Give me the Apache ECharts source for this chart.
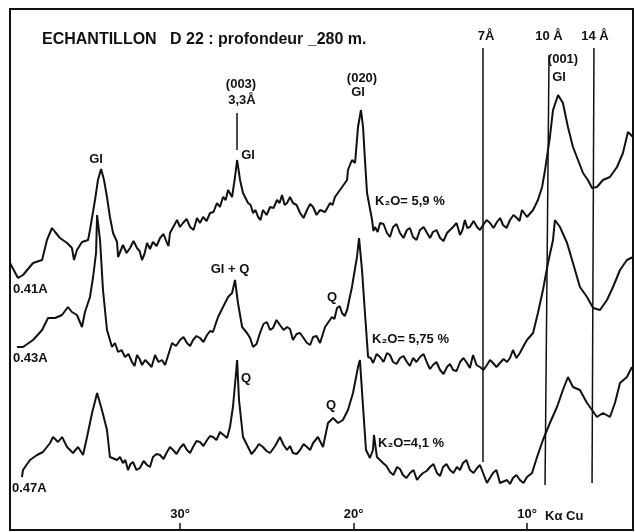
<!DOCTYPE html>
<html>
<head>
<meta charset="utf-8">
<title>Echantillon D22</title>
<script src="https://cdn.jsdelivr.net/npm/echarts@6/dist/echarts.min.js"></script>
<style>
  html, body { margin: 0; padding: 0; background: #fff; }
  #chart { width: 635px; height: 532px; }
</style>
</head>
<body>
<div id="chart"></div>
<script>
// 2θ en degrés (Cu Kα), intensité en unités arbitraires (décalées par courbe)
const trace041 = [
  [39.80,267],[39.34,252],[39.05,255],[38.47,267],[37.95,270],[37.67,290],[37.38,302],[37.20,298],
  [36.92,292],[36.51,287],[36.23,282],[36.11,270],[35.94,280],[35.65,288],[35.30,290],[35.19,300],
  [34.90,330],[34.73,350],[34.55,361],[34.38,350],[34.21,333],[34.04,313],[33.86,297],[33.63,288],
  [33.57,273],[33.29,285],[33.08,277],[32.88,282],[32.68,289],[32.48,282],[32.33,279],[32.19,270],
  [32.05,276],[31.90,287],[31.73,281],[31.56,288],[31.35,284],[31.15,292],[30.95,296],[30.75,287],
  [30.66,284],[30.58,297],[30.17,310],[30.00,303],[29.83,307],[29.62,311],[29.42,303],[29.22,300],
  [29.02,312],[28.85,307],[28.67,313],[28.47,309],[28.27,317],[28.07,318],[27.87,327],[27.70,323],
  [27.52,333],[27.37,330],[27.23,340],[27.00,333],[26.83,353],[26.71,370],[26.54,350],[26.37,337],
  [26.08,327],[25.93,325],[25.79,317],[25.65,320],[25.50,313],[25.36,310],[25.22,320],[25.01,315],
  [24.81,323],[24.61,322],[24.41,330],[24.26,327],[24.12,335],[23.97,325],[23.83,327],[23.66,333],
  [23.49,327],[23.28,325],[23.08,317],[22.88,312],[22.68,320],[22.50,326],[22.33,323],[22.13,315],
  [21.93,320],[21.64,318],[21.35,327],[21.21,325],[21.07,333],[20.78,340],[20.37,350],[20.32,360],
  [20.09,370],[19.91,367],[19.74,403],[19.57,420],[19.45,403],[19.34,370],[19.22,337],[18.93,310],
  [18.85,299],[18.76,303],[18.61,298],[18.47,307],[18.27,306],[18.07,297],[17.90,293],[17.72,303],
  [17.52,306],[17.32,297],[17.12,292],[16.92,300],[16.75,302],[16.57,293],[16.37,290],[16.17,300],
  [15.96,303],[15.76,297],[15.59,292],[15.42,298],[15.22,300],[15.01,292],[14.81,289],[14.61,297],
  [14.44,300],[14.26,303],[14.06,307],[13.86,295],[13.72,300],[13.58,310],[13.44,302],[13.29,303],
  [13.08,309],[12.88,303],[12.71,300],[12.53,305],[12.33,310],[12.13,307],[11.93,302],[11.73,308],
  [11.55,312],[11.38,305],[11.18,302],[10.98,310],[10.78,315],[10.58,312],[10.43,309],[10.29,320],
  [10.00,313],[9.65,320],[9.37,330],[9.13,343],[8.96,360],[8.68,393],[8.50,420],[8.21,435],
  [7.93,427],[7.64,403],[7.35,383],[7.06,370],[6.77,357],[6.49,350],[6.25,342],[5.97,343],
  [5.62,350],[5.22,353],[4.81,363],[4.47,377],[4.18,398],[3.89,393]
];
const trace043 = [
  [39.40,183],[39.05,183],[38.47,190],[37.95,200],[37.61,212],[37.20,212],[36.80,215],[36.46,223],
  [36.23,218],[35.94,215],[35.65,203],[35.48,218],[35.19,233],[35.01,253],[34.84,277],[34.78,315],
  [34.61,290],[34.44,240],[34.21,200],[33.92,183],[33.75,187],[33.57,178],[33.37,180],[33.17,173],
  [32.97,176],[32.77,168],[32.62,164],[32.48,175],[32.33,171],[32.19,165],[32.01,170],[31.84,167],
  [31.64,163],[31.44,175],[31.24,168],[31.04,170],[30.86,165],[30.46,187],[30.23,184],[30.00,190],
  [29.80,193],[29.60,187],[29.42,184],[29.25,190],[29.05,194],[28.85,192],[28.65,188],[28.44,195],
  [28.27,199],[28.10,198],[27.81,213],[27.52,223],[27.23,233],[27.00,237],[26.83,250],[26.66,227],
  [26.42,203],[26.14,197],[25.96,192],[25.79,183],[25.59,186],[25.39,197],[25.19,206],[24.99,208],
  [24.81,200],[24.64,202],[24.44,210],[24.24,205],[24.03,200],[23.83,203],[23.66,201],[23.49,190],
  [23.28,196],[23.08,197],[22.88,192],[22.68,187],[22.50,185],[22.33,193],[22.13,194],[21.93,187],
  [21.64,203],[21.24,213],[21.10,211],[20.95,222],[20.80,224],[20.66,217],[20.51,214],[20.37,220],
  [20.09,243],[19.80,273],[19.68,292],[19.51,260],[19.34,217],[19.16,173],[19.01,172],[18.87,167],
  [18.67,176],[18.47,173],[18.27,168],[18.07,177],[17.90,175],[17.72,168],[17.52,166],[17.32,172],
  [17.12,174],[16.92,168],[16.75,164],[16.57,172],[16.37,168],[16.17,173],[15.96,176],[15.76,167],
  [15.59,161],[15.42,165],[15.22,168],[15.01,160],[14.81,156],[14.61,163],[14.44,166],[14.26,160],
  [14.06,159],[13.86,168],[13.66,172],[13.46,167],[13.29,162],[13.11,175],[12.91,165],[12.71,163],
  [12.51,160],[12.31,165],[12.13,170],[11.96,167],[11.76,163],[11.56,167],[11.35,171],[11.15,168],
  [10.98,172],[10.81,180],[10.61,172],[10.41,177],[10.20,184],[10.00,190],[9.65,197],[9.37,217],
  [9.08,240],[8.79,267],[8.50,290],[8.39,310],[8.10,303],[7.69,287],[7.35,267],[6.95,243],
  [6.54,233],[6.19,222],[5.79,220],[5.39,230],[5.04,243],[4.64,260],[4.24,270],[3.89,273]
];
const trace047 = [
  [39.11,53],[39.05,60],[38.65,70],[38.24,75],[37.90,78],[37.49,87],[37.32,93],[37.03,88],
  [36.80,93],[36.51,83],[36.17,77],[35.88,83],[35.59,75],[35.36,93],[35.07,117],[34.78,137],
  [34.50,120],[34.21,100],[34.04,73],[33.63,70],[33.46,73],[33.29,67],[33.15,70],[33.00,60],
  [32.85,66],[32.71,68],[32.51,60],[32.31,62],[32.10,69],[31.90,65],[31.73,63],[31.56,73],
  [31.35,76],[31.15,75],[30.95,71],[30.75,78],[30.58,83],[30.40,80],[30.20,76],[30.00,82],
  [29.80,86],[29.60,80],[29.42,77],[29.25,83],[29.05,89],[28.85,88],[28.65,84],[28.44,90],
  [28.27,94],[28.10,93],[27.90,90],[27.69,98],[27.29,92],[27.12,103],[26.95,123],[26.77,157],
  [26.71,170],[26.60,130],[26.37,93],[26.08,83],[25.88,76],[25.68,80],[25.45,86],[25.22,83],
  [25.01,79],[24.81,77],[24.52,84],[24.24,93],[24.03,85],[23.83,80],[23.66,84],[23.49,77],
  [23.28,76],[23.08,80],[22.88,86],[22.68,83],[22.50,80],[22.33,87],[22.19,90],[22.05,93],
  [21.76,83],[21.47,107],[21.18,112],[20.89,107],[20.61,110],[20.32,120],[20.03,137],[19.74,163],
  [19.63,170],[19.45,123],[19.28,80],[19.05,72],[18.88,80],[18.82,95],[18.65,73],[18.30,67],
  [18.10,64],[17.90,58],[17.70,55],[17.49,63],[17.32,61],[17.15,55],[16.95,52],[16.74,57],
  [16.54,60],[16.34,50],[16.17,54],[15.99,57],[15.79,59],[15.59,63],[15.39,66],[15.19,57],
  [15.01,54],[14.84,63],[14.64,66],[14.44,60],[14.24,57],[14.04,63],[13.86,60],[13.69,67],
  [13.49,70],[13.29,60],[13.08,57],[12.88,62],[12.71,65],[12.53,57],[12.31,47],[11.96,57],
  [11.76,60],[11.56,47],[11.15,50],[10.98,46],[10.81,52],[10.61,55],[10.41,50],[10.20,47],
  [10.00,53],[9.71,57],[9.42,73],[9.08,90],[8.68,107],[8.27,123],[7.93,140],[7.64,153],
  [7.35,143],[6.95,140],[6.54,127],[6.25,120],[5.97,113],[5.62,117],[5.22,113],[4.93,127],
  [4.64,147],[4.24,153],[3.95,163]
];
// raies de référence : [2θ haut, y haut, 2θ bas, y bas]
const refLines = [
  [26.71, 417, 26.71, 380],  // 3,3 Å
  [12.57, 482, 12.57, 68],   // 7 Å
  [8.73, 475, 8.96, 45],     // 10 Å
  [6.14, 482, 6.25, 47]      // 14 Å
];
const tickValues = [10, 20, 30];
const tickLabels = { 10: '10°', 20: '20°', 30: '30°' };

const labels = [
  ['ECHANTILLON   D 22 : profondeur _280 m.', 42, 40, 'left', 16],
  ['(003)', 241, 84, 'center', 13],
  ['3,3Å', 242, 100, 'center', 13],
  ['Gl', 96, 159, 'center', 13],
  ['Gl', 248, 155, 'center', 13],
  ['(020)', 362, 78, 'center', 13],
  ['Gl', 358, 92, 'center', 13],
  ['7Å', 486, 36, 'center', 13],
  ['10 Å', 549, 36, 'center', 13],
  ['14 Å', 595, 36, 'center', 13],
  ['(001)', 563, 59, 'center', 13],
  ['Gl', 559, 77, 'center', 13],
  ['K₂O= 5,9 %', 375, 201, 'left', 13],
  ['0.41A', 13, 289, 'left', 13],
  ['Gl + Q', 230, 269, 'center', 13],
  ['Q', 332, 297, 'center', 13],
  ['K₂O= 5,75 %', 372, 339, 'left', 13],
  ['0.43A', 13, 358, 'left', 13],
  ['Q', 246, 378, 'center', 13],
  ['Q', 331, 405, 'center', 13],
  ['K₂O=4,1 %', 378, 443, 'left', 13],
  ['0.47A', 12, 488, 'left', 13],
  ['Kα Cu', 545, 516, 'left', 13]
];

const chart = echarts.init(document.getElementById('chart'));
const font = '"Liberation Sans", Arial, sans-serif';
const lineStyle = { color: '#111', width: 2 };

chart.setOption({
  animation: false,
  backgroundColor: '#fff',
  grid: {
    left: 10, right: 2, top: 9, bottom: 2,
    show: true,
    borderColor: '#111',
    borderWidth: 2
  },
  xAxis: {
    type: 'value',
    inverse: true,
    min: 3.89,
    max: 39.80,
    splitLine: { show: false },
    axisLine: { show: false },
    axisTick: {
      inside: true,
      length: 7,
      customValues: tickValues,
      lineStyle: { color: '#111', width: 1.5 }
    },
    axisLabel: {
      inside: true,
      margin: 9,
      customValues: tickValues,
      color: '#111',
      fontSize: 13,
      fontWeight: 'bold',
      fontFamily: font,
      formatter: v => tickLabels[v] || ''
    }
  },
  yAxis: {
    type: 'value',
    min: 0,
    max: 521,
    show: false
  },
  series: [
    {
      name: '0.41A',
      type: 'line',
      data: trace041,
      symbol: 'none',
      lineStyle: lineStyle,
      markLine: {
        silent: true,
        symbol: 'none',
        label: { show: false },
        lineStyle: { color: '#111', width: 1.5, type: 'solid' },
        data: refLines.map(l => [{ coord: [l[0], l[1]] }, { coord: [l[2], l[3]] }])
      }
    },
    { name: '0.43A', type: 'line', data: trace043, symbol: 'none', lineStyle: lineStyle },
    { name: '0.47A', type: 'line', data: trace047, symbol: 'none', lineStyle: lineStyle }
  ],
  graphic: labels.map(l => ({
    type: 'text',
    x: l[1],
    y: l[2],
    style: {
      text: l[0],
      fill: '#111',
      fontSize: l[4],
      fontWeight: 'bold',
      fontFamily: font,
      align: l[3],
      verticalAlign: 'middle'
    }
  }))
});
</script>
</body>
</html>
